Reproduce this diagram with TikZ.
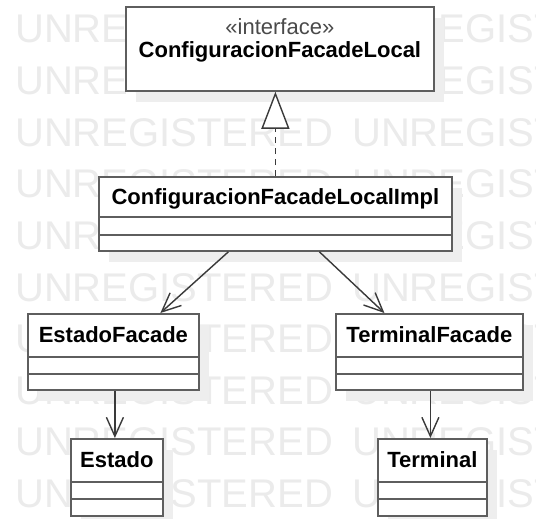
\documentclass[tikz,border=0pt]{standalone}
\usepackage{fontspec}
\setmainfont{Liberation Sans}
\usetikzlibrary{arrows.meta,shadows}

\definecolor{boxline}{HTML}{5E5E5E}
\definecolor{linkline}{HTML}{3A3A3A}
\definecolor{wmgray}{HTML}{EBEBEB}
\definecolor{shadowgray}{HTML}{EEEEEE}
\definecolor{stereogray}{HTML}{4A4A4A}

\tikzset{
  classbox/.style={draw=boxline, line width=1.8pt, fill=white, inner sep=0pt, anchor=north west,
    drop shadow={shadow xshift=10pt, shadow yshift=-11pt, fill=shadowgray, opacity=1}},
  classname/.style={font=\fontsize{22}{22}\selectfont\bfseries, inner sep=0pt, anchor=base},
  stereotype/.style={font=\fontsize{22}{22}\selectfont, text=stereogray, inner sep=0pt, anchor=base},
  compline/.style={draw=boxline, line width=1.8pt},
  watermark/.style={font=\fontsize{40}{40}\selectfont, text=wmgray, inner sep=0pt, anchor=base west},
  uses/.style={draw=linkline, line width=1.4pt, -{Straight Barb[length=19pt,width=17pt,line width=1.4pt]}},
  realizes/.style={draw=linkline, line width=1.4pt, dash pattern=on 6pt off 5pt,
    -{Triangle[open,length=37pt,width=28pt,line width=1.4pt,fill=white]}},
}

\begin{document}
\begin{tikzpicture}[x=1pt,y=-1pt]
  \useasboundingbox (0,0) rectangle (536,519);
  \fill[white] (0,0) rectangle (536,519);

  \foreach \row in {0,...,9} {
    \foreach \col in {0,1} {
      \node[watermark] (wm-\row-\col) at (15+337*\col, 43+51.6*\row) {UNREGISTERED};
    }
  }

  \node[classbox, minimum width=308pt, minimum height=84pt] (iface) at (125,6) {};
  \node[stereotype] (iface-stereo) at ([yshift=-29pt]iface.north) {«interface»};
  \node[classname] (iface-name) at ([yshift=-52pt]iface.north) {ConfiguracionFacadeLocal};

  \node[classbox, minimum width=353pt, minimum height=74pt] (impl) at (98,176) {};
  \node[classname] (impl-name) at ([yshift=-28pt]impl.north) {ConfiguracionFacadeLocalImpl};
  \draw[compline] ([yshift=-41pt]impl.north west) -- ([yshift=-41pt]impl.north east);
  \draw[compline] ([yshift=-59pt]impl.north west) -- ([yshift=-59pt]impl.north east);

  \node[classbox, minimum width=171pt, minimum height=76pt] (estadofacade) at (27,313) {};
  \node[classname] (estadofacade-name) at ([yshift=-29.5pt]estadofacade.north) {EstadoFacade};
  \draw[compline] ([yshift=-44pt]estadofacade.north west) -- ([yshift=-44pt]estadofacade.north east);
  \draw[compline] ([yshift=-61pt]estadofacade.north west) -- ([yshift=-61pt]estadofacade.north east);

  \node[classbox, minimum width=187pt, minimum height=76pt] (terminalfacade) at (335,313) {};
  \node[classname] (terminalfacade-name) at ([yshift=-29.5pt]terminalfacade.north) {TerminalFacade};
  \draw[compline] ([yshift=-44pt]terminalfacade.north west) -- ([yshift=-44pt]terminalfacade.north east);
  \draw[compline] ([yshift=-61pt]terminalfacade.north west) -- ([yshift=-61pt]terminalfacade.north east);

  \node[classbox, minimum width=92pt, minimum height=77pt] (estado) at (70,438) {};
  \node[classname] (estado-name) at ([yshift=-29.5pt]estado.north) {Estado};
  \draw[compline] ([yshift=-44pt]estado.north west) -- ([yshift=-44pt]estado.north east);
  \draw[compline] ([yshift=-61pt]estado.north west) -- ([yshift=-61pt]estado.north east);

  \node[classbox, minimum width=109pt, minimum height=77pt] (terminal) at (377,438) {};
  \node[classname] (terminal-name) at ([yshift=-29.5pt]terminal.north) {Terminal};
  \draw[compline] ([yshift=-44pt]terminal.north west) -- ([yshift=-44pt]terminal.north east);
  \draw[compline] ([yshift=-61pt]terminal.north west) -- ([yshift=-61pt]terminal.north east);

  \draw[realizes] (impl.north) -- (impl.north |- iface.south);
  \draw[uses] ([xshift=-47pt]impl.south) -- ([xshift=47pt]estadofacade.north);
  \draw[uses] ([xshift=44pt]impl.south) -- ([xshift=-45pt]terminalfacade.north);
  \draw[uses] ([xshift=1.5pt]estadofacade.south) -- ([xshift=1.5pt]estadofacade.south |- estado.north);
  \draw[uses] ([xshift=1pt]terminalfacade.south) -- ([xshift=1pt]terminalfacade.south |- terminal.north);
\end{tikzpicture}
\end{document}
